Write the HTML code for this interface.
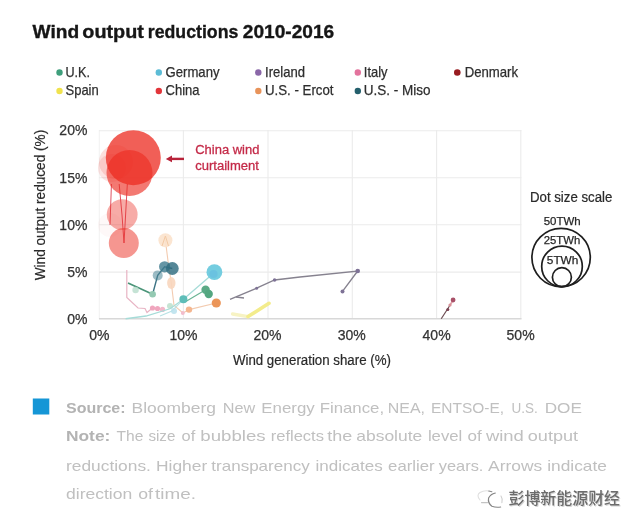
<!DOCTYPE html>
<html><head><meta charset="utf-8">
<style>
html,body{margin:0;padding:0;background:#fff;}
body{width:640px;height:526px;overflow:hidden;position:relative;}
svg{position:absolute;left:0;top:0;}
text{font-family:"Liberation Sans",Arial,sans-serif;}
.cn{font-family:"Liberation Sans","Noto Sans CJK SC",sans-serif;}
</style></head><body>
<svg width="640" height="526" viewBox="0 0 640 526">
<!-- title -->
<g font-size="18.4" font-weight="bold" fill="#161616" stroke="#161616" stroke-width="0.35">
<text x="32.6" y="38" textLength="46.6" lengthAdjust="spacingAndGlyphs">Wind</text>
<text x="82.3" y="38" textLength="61.6" lengthAdjust="spacingAndGlyphs">output</text>
<text x="147.8" y="38" textLength="90.5" lengthAdjust="spacingAndGlyphs">reductions</text>
<text x="242.8" y="38" textLength="91.4" lengthAdjust="spacingAndGlyphs">2010-2016</text>
</g>

<!-- legend -->
<g font-size="14.2" fill="#2e2e2e" stroke="#2e2e2e" stroke-width="0.25">
<circle cx="59.5" cy="72.5" r="3.2" fill="#3f9f7c" stroke="none"/><text x="65.5" y="77.3" textLength="24.5" lengthAdjust="spacingAndGlyphs">U.K.</text>
<circle cx="158.8" cy="72.5" r="3.2" fill="#5cbcd6" stroke="none"/><text x="165.5" y="77.3" textLength="54" lengthAdjust="spacingAndGlyphs">Germany</text>
<circle cx="258.3" cy="72.5" r="3.2" fill="#8a67a8" stroke="none"/><text x="265" y="77.3" textLength="40" lengthAdjust="spacingAndGlyphs">Ireland</text>
<circle cx="357.8" cy="72.5" r="3.2" fill="#e3739d" stroke="none"/><text x="363.8" y="77.3" textLength="23.75" lengthAdjust="spacingAndGlyphs">Italy</text>
<circle cx="457.3" cy="72.5" r="3.3" fill="#981c20" stroke="none"/><text x="464.7" y="77.3" textLength="53.4" lengthAdjust="spacingAndGlyphs">Denmark</text>
<circle cx="59.5" cy="91" r="3.2" fill="#f0e24e" stroke="none"/><text x="65.5" y="95.3" textLength="33.25" lengthAdjust="spacingAndGlyphs">Spain</text>
<circle cx="158.8" cy="91" r="3.2" fill="#e2353a" stroke="none"/><text x="165.5" y="95.3" textLength="34" lengthAdjust="spacingAndGlyphs">China</text>
<circle cx="258.3" cy="91" r="3.2" fill="#e8935a" stroke="none"/><text x="265" y="95.3" textLength="68.5" lengthAdjust="spacingAndGlyphs">U.S. - Ercot</text>
<circle cx="357.8" cy="91" r="3.2" fill="#245f6c" stroke="none"/><text x="363.8" y="95.3" textLength="66.75" lengthAdjust="spacingAndGlyphs">U.S. - Miso</text>
</g>

<!-- grid -->
<g stroke="#ebebeb" stroke-width="1.1" fill="none">
<line x1="99.3" y1="130" x2="99.3" y2="319" stroke="#f3f3f3"/>
<line x1="183.4" y1="130" x2="183.4" y2="319"/>
<line x1="268" y1="130" x2="268" y2="319"/>
<line x1="352.3" y1="130" x2="352.3" y2="319"/>
<line x1="436.6" y1="130" x2="436.6" y2="319"/>
<line x1="520.8" y1="130" x2="520.8" y2="319"/>
<line x1="99" y1="130.8" x2="521.5" y2="130.8"/>
<line x1="99" y1="177.8" x2="521.5" y2="177.8"/>
<line x1="99" y1="224.7" x2="521.5" y2="224.7"/>
<line x1="99" y1="272.1" x2="521.5" y2="272.1"/>
</g>
<line x1="99" y1="318.8" x2="521.5" y2="318.8" stroke="#d8d8d8" stroke-width="1.6"/>

<!-- y tick labels -->
<g font-size="14" fill="#333" stroke="#333" stroke-width="0.25" text-anchor="end">
<text x="87.4" y="135.4">20%</text>
<text x="87.4" y="182.5">15%</text>
<text x="87.4" y="229.8">10%</text>
<text x="87.4" y="277.1">5%</text>
<text x="87.4" y="324.2">0%</text>
</g>
<!-- x tick labels -->
<g font-size="14" fill="#333" stroke="#333" stroke-width="0.25" text-anchor="middle">
<text x="99.3" y="340.3">0%</text>
<text x="183.4" y="340.3">10%</text>
<text x="267.4" y="340.3">20%</text>
<text x="351.8" y="340.3">30%</text>
<text x="436.6" y="340.3">40%</text>
<text x="520.6" y="340.3">50%</text>
</g>
<text x="232.9" y="364.7" font-size="14" fill="#2a2a2a" stroke="#2a2a2a" stroke-width="0.2" textLength="158" lengthAdjust="spacingAndGlyphs">Wind generation share (%)</text>
<text transform="translate(44.6,280.3) rotate(-90)" x="0" y="0" font-size="14" fill="#2a2a2a" stroke="#2a2a2a" stroke-width="0.2" textLength="150.5" lengthAdjust="spacingAndGlyphs">Wind output reduced (%)</text>

<!-- annotation -->
<g fill="#c42a48" stroke="#c42a48" stroke-width="0.3" font-size="13.7">
<text x="195.2" y="153.5" textLength="64.2" lengthAdjust="spacingAndGlyphs">China wind</text>
<text x="195.2" y="169.6" textLength="63.8" lengthAdjust="spacingAndGlyphs">curtailment</text>
</g>
<line x1="170" y1="158.9" x2="184" y2="158.9" stroke="#b8233a" stroke-width="2.4"/>
<path d="M165.8 158.9 L172 155.6 L172 162.2 Z" fill="#b8233a"/>

<!-- China bubbles -->
<g>
<clipPath id="cl"><rect x="90" y="184" width="60" height="80"/></clipPath>
<polyline clip-path="url(#cl)" points="110,225 112,168 117,160 122,215 124,243 128,172 133,158.5" fill="none" stroke="#e05262" stroke-width="1"/>
<circle cx="110" cy="225" r="12" fill="#ec2d22" opacity="0.03"/>
<circle cx="112" cy="168" r="14" fill="#ec2d22" opacity="0.12"/>
<circle cx="116" cy="162" r="17" fill="#ec2d22" opacity="0.15"/>
<circle cx="122.2" cy="214.6" r="15.4" fill="#ec2d22" opacity="0.4"/>
<circle cx="123.8" cy="243" r="15" fill="#ec2d22" opacity="0.5"/>
<circle cx="129.5" cy="173" r="23" fill="#ec2d22" opacity="0.64"/>
<circle cx="133.3" cy="157.7" r="27.5" fill="#ec2d22" opacity="0.76"/>
</g>

<!-- Ercot -->
<g>
<polyline points="165.4,240.3 168,261 171.3,283 174,305.3 183,313 189,309.6 216.3,303" fill="none" stroke="#f3cbb0" stroke-width="1.1"/>
<circle cx="165.4" cy="240.3" r="7" fill="#fbe2cc" opacity="0.9"/>
<path d="M162 246 L165.4 236 L168.5 246" fill="none" stroke="#f3c9a4" stroke-width="1"/>
<ellipse cx="171.3" cy="283" rx="4.2" ry="6" fill="#f8d6be" opacity="0.9"/>
<circle cx="189" cy="309.6" r="3.2" fill="#f4b690"/>
<circle cx="216.3" cy="303" r="4.6" fill="#eb9558"/>
</g>

<!-- Miso -->
<g>
<polyline points="152.6,294.2 157.7,275.4 164.6,266.8 172.3,268.5" fill="none" stroke="#3c7384" stroke-width="1.4"/>
<circle cx="157.7" cy="275.4" r="5" fill="#4a8596" opacity="0.55"/>
<circle cx="164.6" cy="266.8" r="5.6" fill="#3e7a8e" opacity="0.8"/>
<circle cx="172.3" cy="268.5" r="6.4" fill="#2f6c80" opacity="0.82"/>
</g>

<!-- UK -->
<g>
<polyline points="128,283 152.6,294.2" fill="none" stroke="#4a9478" stroke-width="1.8"/>
<circle cx="135.6" cy="290" r="3.2" fill="#b6dccb" opacity="0.8"/>
<circle cx="152.6" cy="294.2" r="3.3" fill="#94c9b2"/>
<circle cx="170" cy="306" r="3" fill="#b8ddc8" opacity="0.8"/>
<polyline points="185,302 205.6,289.8 208.7,294" fill="none" stroke="#6ab494" stroke-width="1.2"/>
<circle cx="205.6" cy="289.8" r="4.2" fill="#5aaa86"/>
<circle cx="208.7" cy="294" r="4.2" fill="#54a680"/>
</g>

<!-- Italy -->
<g>
<polyline points="126.8,270 126.8,297.5 138,308 145,308.5 147,312.5 152.5,308 162.5,309.4" fill="none" stroke="#e8b4c4" stroke-width="1.2"/>
<circle cx="152.5" cy="308" r="2.6" fill="#f0a6be"/>
<circle cx="157.5" cy="308.5" r="2.6" fill="#f0a6be"/>
<circle cx="162.5" cy="309.4" r="2.6" fill="#f2b8ca"/>
<circle cx="182.8" cy="313" r="2" fill="#f2bccc"/>
</g>

<!-- Germany -->
<g>
<polyline points="125.6,318.75 146,316 170,308.75 183.4,299.3 214.4,272.4" fill="none" stroke="#a6dcd8" stroke-width="1.3"/>
<polyline points="160,316 172,311 183.4,299.3" fill="none" stroke="#b8e2e4" stroke-width="1.1"/>
<circle cx="174" cy="311" r="3" fill="#b8e0ec" opacity="0.85"/>
<circle cx="183.4" cy="299.3" r="4" fill="#5ebdb8"/>
<circle cx="214.4" cy="272.2" r="7.9" fill="#74cde0"/>
<circle cx="213.5" cy="274" r="4" fill="#5aaee0" opacity="0.35"/>
</g>

<!-- Spain -->
<polyline points="232.6,314 248,316.6" fill="none" stroke="#f7f3c4" stroke-width="3.4" stroke-linecap="round"/>
<polyline points="248,316.6 269,303.3" fill="none" stroke="#f3ec8c" stroke-width="3.6" stroke-linecap="round"/>

<!-- Ireland -->
<g stroke="#86828f" stroke-width="1.35" fill="none">
<polyline points="230,299.3 256.6,288.2 274.6,280 300,277 357.7,271 342.5,291.4"/>
<line x1="236" y1="297" x2="244" y2="298"/>
</g>
<g fill="#7e7296">
<circle cx="357.7" cy="271" r="2.3"/>
<circle cx="342.5" cy="291.4" r="2"/>
<circle cx="274.6" cy="280" r="1.8"/>
<circle cx="256.6" cy="288.2" r="1.5"/>
</g>

<!-- Denmark -->
<line x1="441.25" y1="318.75" x2="449.5" y2="306" stroke="#6a4a50" stroke-width="1.2"/>
<line x1="449.5" y1="306" x2="453.1" y2="300" stroke="#e0a0a8" stroke-width="1.6"/>
<circle cx="453.1" cy="300" r="2.4" fill="#a85068"/>
<circle cx="450" cy="305" r="1.6" fill="#d89098"/>
<circle cx="447.8" cy="309.5" r="1.5" fill="#7a4050"/>

<!-- dot size scale -->
<text x="530" y="201.8" font-size="14" fill="#2a2a2a" stroke="#2a2a2a" stroke-width="0.22" textLength="82.3" lengthAdjust="spacingAndGlyphs">Dot size scale</text>
<g fill="none" stroke="#1e1e1e" stroke-width="1.7">
<circle cx="561.1" cy="257.6" r="29.2"/>
<circle cx="562" cy="266.4" r="20.3"/>
<circle cx="561.9" cy="277.2" r="9.5"/>
</g>
<g font-size="11.8" fill="#262626" stroke="#262626" stroke-width="0.25">
<text x="543.7" y="225.2" textLength="37" lengthAdjust="spacingAndGlyphs">50TWh</text>
<text x="543.7" y="244.4" textLength="36.5" lengthAdjust="spacingAndGlyphs">25TWh</text>
<text x="546.8" y="264.2" textLength="31.6" lengthAdjust="spacingAndGlyphs">5TWh</text>
</g>

<!-- source block -->
<rect x="32.8" y="398.5" width="16.5" height="16" fill="#1596d6"/>
<g font-size="15" fill="#c0c0c0">
<text x="66.0" y="413.3" textLength="59.6" lengthAdjust="spacingAndGlyphs" font-weight="bold" fill="#b3b3b3">Source:</text>
<text x="131.6" y="413.3" textLength="84.3" lengthAdjust="spacingAndGlyphs">Bloomberg</text>
<text x="222.8" y="413.3" textLength="32.5" lengthAdjust="spacingAndGlyphs">New</text>
<text x="261.3" y="413.3" textLength="53.4" lengthAdjust="spacingAndGlyphs">Energy</text>
<text x="319.7" y="413.3" textLength="64.4" lengthAdjust="spacingAndGlyphs">Finance,</text>
<text x="387.8" y="413.3" textLength="37.2" lengthAdjust="spacingAndGlyphs">NEA,</text>
<text x="431.0" y="413.3" textLength="73.0" lengthAdjust="spacingAndGlyphs">ENTSO-E,</text>
<text x="511.5" y="413.3" textLength="26.3" lengthAdjust="spacingAndGlyphs">U.S.</text>
<text x="544.7" y="413.3" textLength="37.2" lengthAdjust="spacingAndGlyphs">DOE</text>
<text x="66.0" y="441.4" textLength="44.3" lengthAdjust="spacingAndGlyphs" font-weight="bold" fill="#b3b3b3">Note:</text>
<text x="116.6" y="441.4" textLength="26.8" lengthAdjust="spacingAndGlyphs">The</text>
<text x="148.4" y="441.4" textLength="27.0" lengthAdjust="spacingAndGlyphs">size</text>
<text x="181.6" y="441.4" textLength="13.7" lengthAdjust="spacingAndGlyphs">of</text>
<text x="200.3" y="441.4" textLength="65.3" lengthAdjust="spacingAndGlyphs">bubbles</text>
<text x="270.7" y="441.4" textLength="53.3" lengthAdjust="spacingAndGlyphs">reflects</text>
<text x="327.2" y="441.4" textLength="25.0" lengthAdjust="spacingAndGlyphs">the</text>
<text x="356.3" y="441.4" textLength="65.9" lengthAdjust="spacingAndGlyphs">absolute</text>
<text x="427.9" y="441.4" textLength="34.4" lengthAdjust="spacingAndGlyphs">level</text>
<text x="467.5" y="441.4" textLength="14.2" lengthAdjust="spacingAndGlyphs">of</text>
<text x="485.9" y="441.4" textLength="37.9" lengthAdjust="spacingAndGlyphs">wind</text>
<text x="527.8" y="441.4" textLength="50.3" lengthAdjust="spacingAndGlyphs">output</text>
<text x="66.0" y="470.9" textLength="84.9" lengthAdjust="spacingAndGlyphs">reductions.</text>
<text x="156.0" y="470.9" textLength="51.2" lengthAdjust="spacingAndGlyphs">Higher</text>
<text x="211.3" y="470.9" textLength="98.4" lengthAdjust="spacingAndGlyphs">transparency</text>
<text x="315.6" y="470.9" textLength="67.1" lengthAdjust="spacingAndGlyphs">indicates</text>
<text x="388.1" y="470.9" textLength="46.5" lengthAdjust="spacingAndGlyphs">earlier</text>
<text x="438.8" y="470.9" textLength="44.6" lengthAdjust="spacingAndGlyphs">years.</text>
<text x="488.1" y="470.9" textLength="54.1" lengthAdjust="spacingAndGlyphs">Arrows</text>
<text x="547.2" y="470.9" textLength="59.7" lengthAdjust="spacingAndGlyphs">indicate</text>
<text x="66.0" y="498.8" textLength="66.2" lengthAdjust="spacingAndGlyphs">direction</text>
<text x="138.2" y="498.8" textLength="14.7" lengthAdjust="spacingAndGlyphs">of</text>
<text x="155.0" y="498.8" textLength="40.9" lengthAdjust="spacingAndGlyphs">time.</text>
</g>

<!-- watermark -->
<g fill="none" stroke-linecap="round">
<path d="M480 500 Q476 495 480 492.5 Q484 490 489 491" stroke="#e0e0e0" stroke-width="1.1"/>
<path d="M481.5 502.6 L487.5 502.6" stroke="#c4c4c4" stroke-width="1.1"/>
<path d="M488.8 491 L491.9 491.7" stroke="#8a8a8a" stroke-width="1.1"/>
<path d="M495.3 493 Q490.6 494 488.6 498 Q487.6 503 491.9 506.2 Q496 507.8 500.6 507" stroke="#858585" stroke-width="1.2"/>
<path d="M501.9 502.6 Q503 499 501 496" stroke="#cfcfcf" stroke-width="1.1"/>
</g>
<text x="509.5" y="504.8" class="cn" font-size="16" font-weight="500" fill="#d4d4d4" textLength="111.5" lengthAdjust="spacingAndGlyphs">彭博新能源财经</text>
<text x="508.5" y="503.8" class="cn" font-size="16" font-weight="500" fill="#6c6c6c" textLength="111.5" lengthAdjust="spacingAndGlyphs">彭博新能源财经</text>
</svg>
</body></html>
